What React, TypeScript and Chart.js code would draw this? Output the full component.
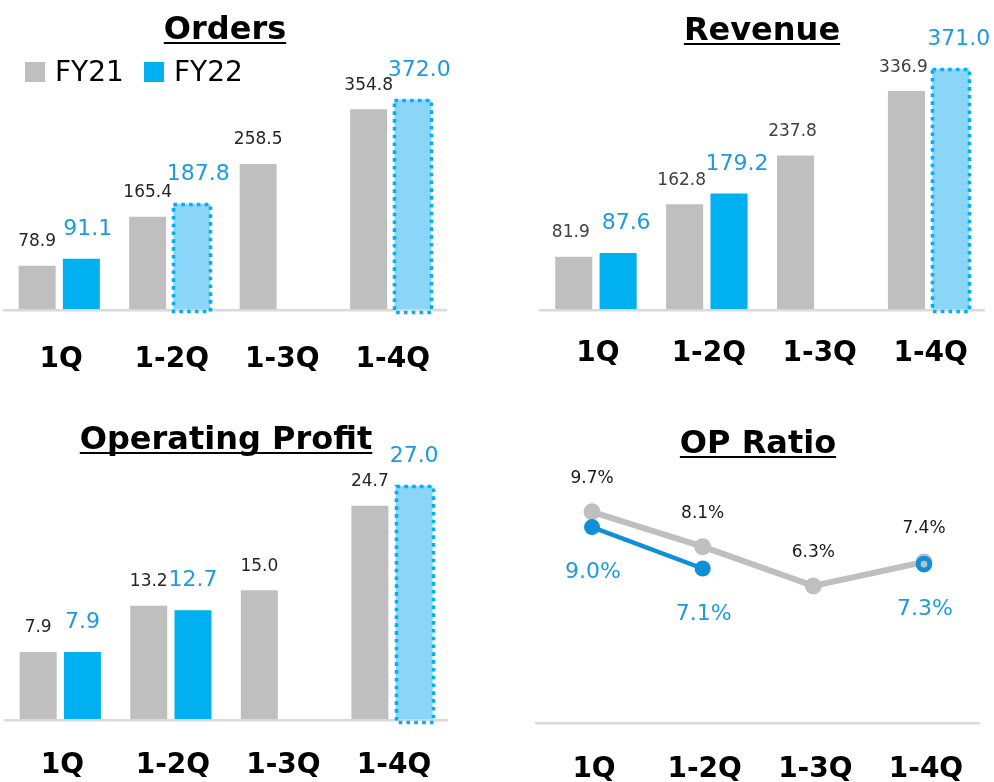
import React, { useEffect, useRef } from "react";
import { Chart, registerables } from "chart.js";

Chart.register(...registerables);

// ---------- data ----------
const categories = ["1Q", "1-2Q", "1-3Q", "1-4Q"];
const seriesNames = ["FY21", "FY22"];

const ordersFY21 = [78.9, 165.4, 258.5, 354.8];
const ordersFY22 = [91.1, 187.8, null, 372.0];
const ordersForecast = [false, true, false, true];

const revenueFY21 = [81.9, 162.8, 237.8, 336.9];
const revenueFY22 = [87.6, 179.2, null, 371.0];
const revenueForecast = [false, false, false, true];

const opFY21 = [7.9, 13.2, 15.0, 24.7];
const opFY22 = [7.9, 12.7, null, 27.0];
const opForecast = [false, false, false, true];

const ratioFY21 = [9.7, 8.1, 6.3, 7.4];
const ratioFY22 = [9.0, 7.1, null, 7.3];
const ratioForecast = [false, false, false, true];

// ---------- styles ----------
const FONT = "'DejaVu Sans', Verdana, sans-serif";
const GRAY = "#BFBFBF";
const BLUE = "#00B0F0";
const LIGHT = "#8BD6F8";
const LABEL_BLUE = "#1D9BE0";
const LINE_BLUE = "#0E8FD8";
const AXIS = "#D9D9D9";

const W = 497;
const H = 391;

type LabelStyle = { size: number; color: string; dx: number; dy: number };

type Spec = {
  kind: "bar" | "line";
  title: string;
  titleX: number;
  titleY: number;
  fy21: (number | null)[];
  fy22: (number | null)[];
  forecast: boolean[];
  pad: { left: number; right: number; top: number };
  axisH: number;
  tickPad: number;
  max: number;
  labels: [LabelStyle, LabelStyle];
  suffix: string;
  legend?: boolean;
};

const fmt = (v: number, suffix: string) => v.toFixed(1) + suffix;

function titlePlugin(spec: Spec) {
  return {
    id: "panelTitle",
    afterDraw(chart: any) {
      const ctx = chart.ctx;
      ctx.save();
      ctx.font = `bold 32px ${FONT}`;
      ctx.fillStyle = "#000";
      ctx.textAlign = "center";
      ctx.textBaseline = "alphabetic";
      const w = ctx.measureText(spec.title).width;
      ctx.fillText(spec.title, spec.titleX, spec.titleY);
      ctx.fillRect(spec.titleX - w / 2, spec.titleY + 3, w, 2);
      ctx.restore();
    },
  };
}

function legendPlugin() {
  return {
    id: "panelLegend",
    afterDraw(chart: any) {
      const ctx = chart.ctx;
      ctx.save();
      ctx.font = `28px ${FONT}`;
      ctx.fillStyle = "#000";
      ctx.textBaseline = "alphabetic";
      const colors = [GRAY, BLUE];
      const xs = [25, 144];
      seriesNames.forEach((name, i) => {
        ctx.fillStyle = colors[i];
        ctx.fillRect(xs[i], 62, 20, 20);
        ctx.fillStyle = "#000";
        ctx.fillText(name, xs[i] + 30, 81);
      });
      ctx.restore();
    },
  };
}

function forecastPlugin(spec: Spec) {
  return {
    id: "forecastBorder",
    afterDraw(chart: any) {
      if (spec.kind !== "bar") return;
      const ctx = chart.ctx;
      const meta = chart.getDatasetMeta(1);
      ctx.save();
      ctx.strokeStyle = BLUE;
      ctx.lineWidth = 3.6;
      ctx.lineCap = "butt";
      ctx.setLineDash([3.6, 4.2]);
      meta.data.forEach((el: any, i: number) => {
        if (!spec.forecast[i] || spec.fy22[i] == null) return;
        const p = el.getProps(["x", "y", "base", "width"], true);
        const x0 = Math.round(p.x - p.width / 2) + 0.5;
        const y0 = Math.round(p.y) + 0.5;
        const w = Math.round(p.width);
        const h = Math.round(p.base - p.y) + 1;
        ctx.strokeRect(x0, y0, w, h);
      });
      ctx.restore();
    },
  };
}

function valueLabelPlugin(spec: Spec) {
  return {
    id: "valueLabels",
    afterDraw(chart: any) {
      const ctx = chart.ctx;
      chart.data.datasets.forEach((ds: any, di: number) => {
        const meta = chart.getDatasetMeta(di);
        const st = spec.labels[di];
        meta.data.forEach((el: any, i: number) => {
          const v = ds.data[i];
          if (v == null) return;
          const p = el.getProps(["x", "y"], true);
          ctx.save();
          ctx.font = `${st.size}px ${FONT}`;
          ctx.fillStyle = st.color;
          ctx.textAlign = "center";
          ctx.textBaseline = "alphabetic";
          ctx.fillText(fmt(v, spec.suffix), p.x + st.dx, p.y + st.dy);
          ctx.restore();
        });
      });
    },
  };
}

function buildConfig(spec: Spec): any {
  const xScale = {
    offset: true,
    grid: { display: false, drawTicks: false },
    border: { display: true, color: AXIS, width: 2.5, z: 1 },
    ticks: {
      font: { family: FONT, size: 28, weight: "bold" },
      color: "#000",
      padding: spec.tickPad,
      labelOffset: 2,
      maxRotation: 0,
      autoSkip: false,
    },
    afterFit: (axis: any) => {
      axis.height = spec.axisH;
    },
  };
  const yScale = { display: false, min: 0, max: spec.max };

  let datasets: any[];
  if (spec.kind === "bar") {
    datasets = [
      {
        label: seriesNames[0],
        data: spec.fy21,
        backgroundColor: GRAY,
        borderWidth: 0,
        categoryPercentage: 0.8,
        barPercentage: 0.836,
      },
      {
        label: seriesNames[1],
        data: spec.fy22,
        backgroundColor: spec.fy22.map((_, i) => (spec.forecast[i] ? LIGHT : BLUE)),
        borderWidth: 0,
        categoryPercentage: 0.8,
        barPercentage: 0.836,
      },
    ];
  } else {
    datasets = [
      {
        label: seriesNames[0],
        data: spec.fy21,
        borderColor: GRAY,
        borderWidth: 6,
        pointRadius: 8.5,
        pointBorderWidth: 0,
        pointBackgroundColor: GRAY,
        tension: 0,
        order: 2,
      },
      {
        label: seriesNames[1],
        data: spec.fy22,
        borderColor: LINE_BLUE,
        borderWidth: 4.5,
        pointRadius: spec.fy22.map((_, i) => (spec.forecast[i] ? 5.8 : 8)),
        pointBorderWidth: spec.fy22.map((_, i) => (spec.forecast[i] ? 5 : 0)),
        pointBorderColor: LINE_BLUE,
        pointBackgroundColor: spec.fy22.map((_, i) => (spec.forecast[i] ? GRAY : LINE_BLUE)),
        spanGaps: false,
        tension: 0,
        order: 1,
      },
    ];
  }

  const plugins: any[] = [titlePlugin(spec), forecastPlugin(spec), valueLabelPlugin(spec)];
  if (spec.legend) plugins.push(legendPlugin());

  return {
    type: spec.kind,
    data: { labels: categories, datasets },
    options: {
      animation: false,
      responsive: false,
      maintainAspectRatio: false,
      layout: { padding: { left: spec.pad.left, right: spec.pad.right, top: spec.pad.top, bottom: 0 } },
      plugins: {
        legend: { display: false },
        tooltip: { enabled: false },
        title: { display: false },
      },
      scales: { x: xScale, y: yScale },
    },
    plugins,
  };
}

const ordersSpec: Spec = {
  kind: "bar",
  title: "Orders",
  titleX: 225,
  titleY: 39,
  fy21: ordersFY21,
  fy22: ordersFY22,
  forecast: ordersForecast,
  pad: { left: 4, right: 51, top: 40 },
  axisH: 80.5,
  tickPad: 32,
  max: 477,
  labels: [
    { size: 17, color: "#262626", dx: 0, dy: -19.5 },
    { size: 22, color: LABEL_BLUE, dx: 6.5, dy: -24 },
  ],
  suffix: "",
  legend: true,
};

const revenueSpec: Spec = {
  kind: "bar",
  title: "Revenue",
  titleX: 265,
  titleY: 40,
  fy21: revenueFY21,
  fy22: revenueFY22,
  forecast: revenueForecast,
  pad: { left: 43.5, right: 9.5, top: 40 },
  axisH: 81,
  tickPad: 27,
  max: 415.4,
  labels: [
    { size: 17, color: "#404040", dx: -3, dy: -19.5 },
    { size: 22, color: LABEL_BLUE, dx: 8, dy: -24 },
  ],
  suffix: "",
};

const opSpec: Spec = {
  kind: "bar",
  title: "Operating Profit",
  titleX: 226,
  titleY: 58,
  fy21: opFY21,
  fy22: opFY22,
  forecast: opForecast,
  pad: { left: 5, right: 49.7, top: 60 },
  axisH: 61.3,
  tickPad: 28,
  max: 31.0,
  labels: [
    { size: 17, color: "#262626", dx: 0, dy: -19.5 },
    { size: 22, color: LABEL_BLUE, dx: 0, dy: -24 },
  ],
  suffix: "",
};

const ratioSpec: Spec = {
  kind: "line",
  title: "OP Ratio",
  titleX: 261,
  titleY: 62,
  fy21: ratioFY21,
  fy22: ratioFY22,
  forecast: ratioForecast,
  pad: { left: 39.7, right: 14.7, top: 60 },
  axisH: 58.7,
  tickPad: 30,
  max: 12.49,
  labels: [
    { size: 17, color: "#1a1a1a", dx: 0, dy: -29 },
    { size: 22, color: LABEL_BLUE, dx: 1, dy: 51 },
  ],
  suffix: "%",
};

function Panel({ spec, left, top }: { spec: Spec; left: number; top: number }) {
  const ref = useRef<HTMLCanvasElement>(null);
  useEffect(() => {
    if (!ref.current) return;
    const chart = new Chart(ref.current, buildConfig(spec));
    return () => chart.destroy();
  }, [spec]);
  return (
    <canvas
      ref={ref}
      width={W}
      height={H}
      style={{ position: "absolute", left, top, width: W, height: H }}
    />
  );
}

export default function App() {
  return (
    <div style={{ position: "absolute", left: 0, top: 0, width: 994, height: 782, background: "#fff", overflow: "hidden" }}>
      <Panel spec={ordersSpec} left={0} top={0} />
      <Panel spec={revenueSpec} left={W} top={0} />
      <Panel spec={opSpec} left={0} top={H} />
      <Panel spec={ratioSpec} left={W} top={H} />
    </div>
  );
}
